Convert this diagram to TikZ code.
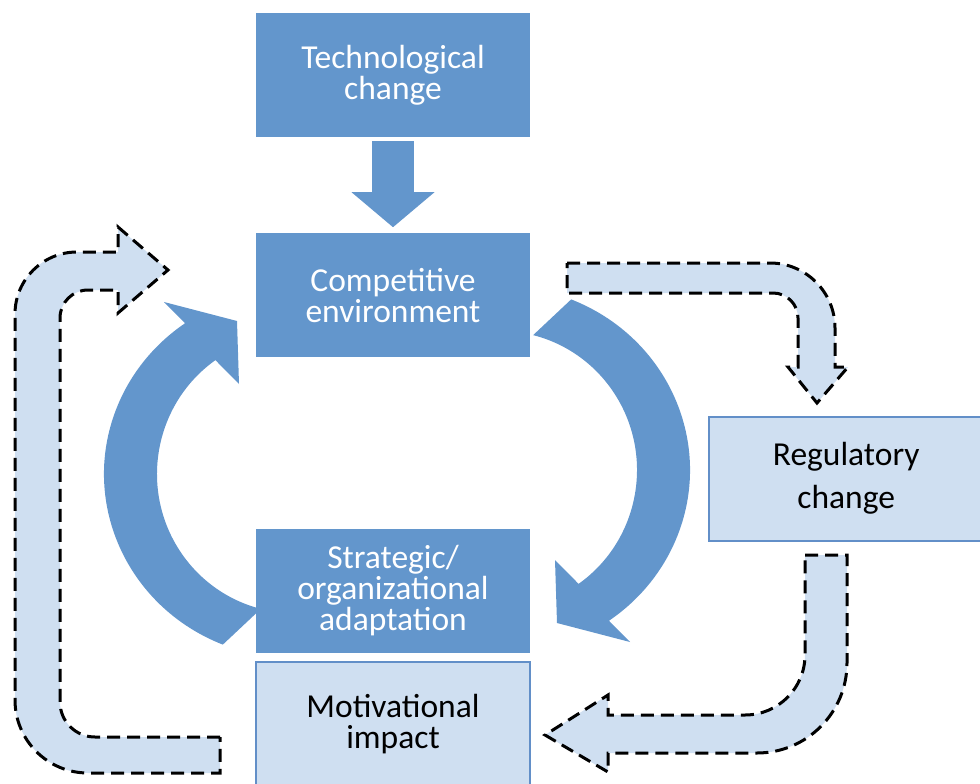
\documentclass[tikz,border=0pt]{standalone}
\usepackage{fontspec}
\setmainfont{Carlito}
\usepackage{tikz}
\usetikzlibrary{arrows.meta, positioning, calc}

\definecolor{boxblue}{RGB}{99,150,204}
\definecolor{paleblue}{RGB}{207,223,241}
\definecolor{edgeblue}{RGB}{98,143,200}

\begin{document}
\begin{tikzpicture}[
    x=1pt, y=-1pt,
    box/.style={rectangle, minimum width=274pt, minimum height=124pt, inner sep=0pt, align=center, font=\fontsize{33.5pt}{31pt}\selectfont},
    darkbox/.style={box, fill=boxblue, text=white},
    palebox/.style={box, fill=paleblue, draw=edgeblue, line width=2pt},
    swirl/.style={fill=boxblue},
    dashband/.style={fill=paleblue, draw=black, line width=3pt, dash pattern=on 13pt off 7pt},
    curvy/.pic={
        \fill[swirl] ($(500,470)+(-68:190 and 184)$) arc[start angle=-68, end angle=55, x radius=190, y radius=184]
            -- (630,642) -- (557,623) -- (555,560)
            -- ($(500,470)+(55:137 and 139)$) arc[start angle=55, end angle=-76, x radius=137, y radius=139] -- cycle;
    },
]
    \useasboundingbox (0,0) rectangle (980,784);

    % Central column
    \node[darkbox] (tech) at (393,75) {Technological\\change};
    \node[darkbox, below=96pt of tech] (comp) {Competitive\\environment};
    \node[darkbox, below=171pt of comp] (strat) {Strategic/\\organizational\\adaptation};
    \node[palebox, below=8pt of strat] (motiv) {Motivational\\impact};

    % Regulation
    \node[palebox, below right=58pt and 178pt of comp, font=\fontsize{33.5pt}{43pt}\selectfont] (reg) {Regulatory\\change};

    % Block arrow
    \draw[boxblue, line width=42pt, shorten <=4pt, shorten >=6pt, -{Triangle[width=83pt, length=35pt, line width=0pt]}] (tech) -- (comp);

    % Cycle
    \pic at (0,0) {curvy};
    \pic[rotate=180] at (794,944) {curvy};

    % Dashed feedback arrows
    \draw[dashband] (220,737) -- (95,737) arc[start angle=90, end angle=180, radius=35] -- (60,318)
        arc[start angle=180, end angle=270, radius=28] -- (118,290) -- (118,313) -- (168,270) -- (118,227)
        -- (118,252) -- (77,252) arc[start angle=270, end angle=180, radius=62] -- (15,700)
        arc[start angle=180, end angle=90, radius=73] -- (220,773) -- cycle;
    \draw[dashband] (567,263) -- (770,263) arc[start angle=270, end angle=360, radius=65] -- (835,367)
        -- (848,367) -- (817,403) -- (788,367) -- (798,367) -- (798,318)
        arc[start angle=0, end angle=-90, radius=25] -- (567,293) -- cycle;
    \draw[dashband] (805,555) -- (847,555) -- (847,663) arc[start angle=0, end angle=90, radius=90]
        -- (608,753) -- (608,772) -- (545,735) -- (608,695) -- (608,715) -- (745,715)
        arc[start angle=90, end angle=0, radius=60] -- cycle;
\end{tikzpicture}
\end{document}
